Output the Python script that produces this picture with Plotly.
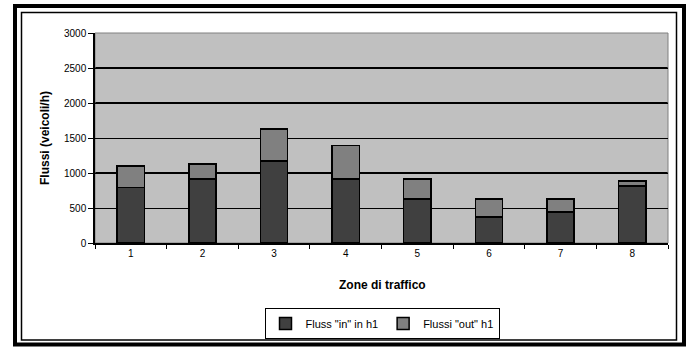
import plotly.graph_objects as go

zones = ["1", "2", "3", "4", "5", "6", "7", "8"]
flussi_in = [790, 915, 1170, 915, 630, 370, 440, 815]
flussi_out = [310, 215, 460, 475, 285, 260, 190, 70]
y_ticks = [0, 500, 1000, 1500, 2000, 2500, 3000]
thick_grid = [1000, 2000, 2500]

W, H = 686, 347
L, R, T, B = 95, 668, 33, 243

def px(x):
    return x / W

def py(y):
    return (H - y) / H

FONT = "Liberation Sans, Arial, sans-serif"

fig = go.Figure()
fig.add_trace(go.Bar(
    x=zones, y=flussi_in, name='Fluss "in" in h1',
    marker=dict(color="#404040", line=dict(color="black", width=1.5)),
))
fig.add_trace(go.Bar(
    x=zones, y=flussi_out, name='Flussi "out" h1',
    marker=dict(color="#808080", line=dict(color="black", width=1.5)),
))

shapes = []
for g in thick_grid:
    shapes.append(dict(type="line", xref="x domain", yref="y", x0=0, x1=1, y0=g, y1=g,
                       line=dict(color="black", width=2), layer="below"))
shapes.append(dict(type="rect", xref="x domain", yref="y domain", x0=0, x1=1, y0=0, y1=1,
                   line=dict(color="#808080", width=1), layer="below"))
# outer thick frame
shapes.append(dict(type="rect", xref="paper", yref="paper",
                   x0=px(15), x1=px(684), y0=py(344.5), y1=py(6),
                   line=dict(color="black", width=4)))
# inner thin frame
shapes.append(dict(type="rect", xref="paper", yref="paper",
                   x0=px(21.5), x1=px(676.5), y0=py(340), y1=py(12.5),
                   line=dict(color="black", width=1.5)))

fig.update_layout(
    width=W, height=H,
    margin=dict(l=0, r=0, t=0, b=0),
    paper_bgcolor="white",
    plot_bgcolor="#C0C0C0",
    barmode="stack",
    bargap=0.62,
    font=dict(family=FONT, size=10, color="black"),
    showlegend=True,
    legend=dict(
        orientation="h",
        x=px(382), xanchor="center",
        y=py(308), yanchor="top",
        bordercolor="black", borderwidth=1,
        bgcolor="white",
        font=dict(family=FONT, size=11, color="black"),
        itemwidth=30,
        traceorder="normal",
        tracegroupgap=0,
    ),
    xaxis=dict(
        domain=[px(L), px(R)],
        type="category",
        tickson="boundaries",
        ticks="outside", ticklen=4, tickcolor="black", tickwidth=1,
        showline=True, linecolor="black", linewidth=1.5,
        showgrid=False,
        tickfont=dict(family=FONT, size=10),
        automargin=False,
    ),
    yaxis=dict(
        domain=[py(B), py(T)],
        range=[0, 3000],
        tickvals=y_ticks,
        ticks="outside", ticklen=5, tickcolor="black", tickwidth=1,
        showline=True, linecolor="black", linewidth=1.5,
        showgrid=True, gridcolor="black", gridwidth=1,
        zeroline=False,
        tickfont=dict(family=FONT, size=10),
        automargin=False,
    ),
    shapes=shapes,
    annotations=[
        dict(text="<b>Zone di traffico</b>", xref="paper", yref="paper",
             x=px(382), y=py(285), xanchor="center", yanchor="middle",
             showarrow=False, font=dict(family=FONT, size=12, color="black")),
        dict(text="<b>Flussi (veicoli/h)</b>", xref="paper", yref="paper",
             x=px(45), y=py(138), xanchor="center", yanchor="middle", textangle=-90,
             showarrow=False, font=dict(family=FONT, size=12, color="black")),
    ],
)

fig.write_html(
    "out.html",
    config={"displayModeBar": False},
    post_script="document.body.style.margin='0';document.body.style.overflow='hidden';",
)
